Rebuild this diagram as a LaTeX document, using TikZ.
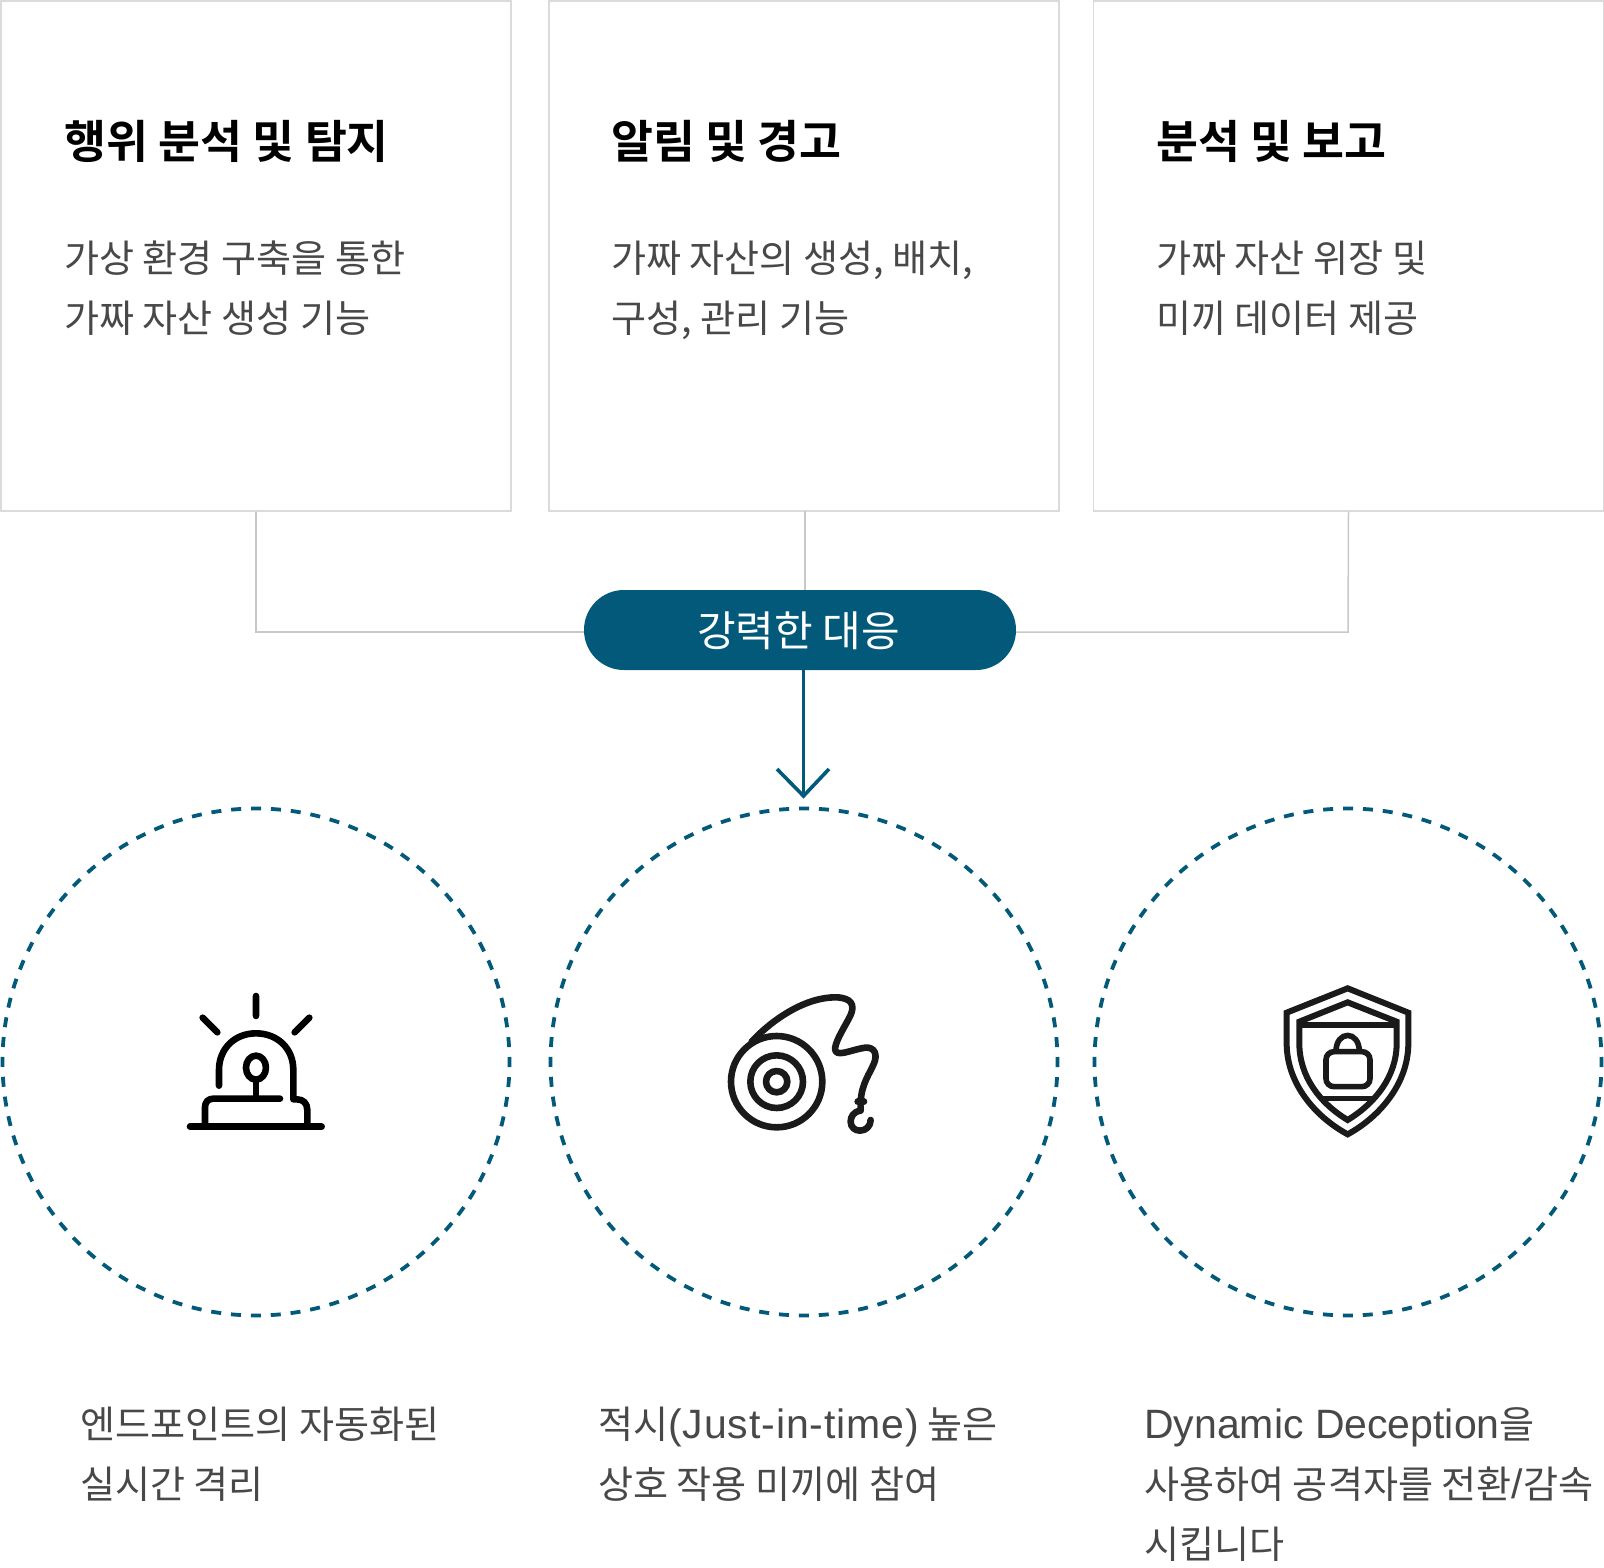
\documentclass[tikz,border=0pt]{standalone}
\usepackage{fontspec}
\setmainfont{Noto Sans CJK KR}
\newfontfamily\latf{Liberation Sans}
\newfontfamily\latg[LetterSpace=2.2]{Liberation Sans}
\newfontfamily\krb{Noto Sans CJK KR Bold}
\definecolor{teal1}{HTML}{02597A}
\definecolor{graybox}{HTML}{DDDADA}
\definecolor{grayline}{HTML}{C8C8C8}
\definecolor{bodytxt}{HTML}{484848}
\definecolor{ink}{HTML}{1A1A1A}
\newcommand{\lat}[1]{{\latf\fontsize{41}{41}\selectfont #1}}
\newcommand{\latw}[1]{{\latg\fontsize{41}{41}\selectfont #1}}
\tikzset{
 card/.style={draw=graybox,line width=1.5pt,minimum width=510pt,minimum height=510pt,inner sep=0pt,fill=white},
 link/.style={draw=grayline,line width=1.5pt},
 pill/.style={fill=teal1,rounded corners=39.9pt,minimum width=432pt,minimum height=80pt,inner sep=0pt},
 pilltext/.style={anchor=base,inner sep=0pt,text=white,font=\fontsize{42}{42}\selectfont},
 ring/.style={circle,draw=teal1,line width=3.8pt,dash pattern=on 10pt off 9.91pt,dash phase=5pt,minimum size=507pt,inner sep=0pt},
 title/.style={anchor=base west,inner sep=0pt,font=\krb\fontsize{45.6}{45.6}\selectfont,text=black},
 body/.style={anchor=base west,inner sep=0pt,font=\fontsize{38.1}{38.1}\selectfont,text=bodytxt},
}
\begin{document}
\begin{tikzpicture}[x=1pt,y=-1pt]
\useasboundingbox (0,0) rectangle (1604,1568);
\coordinate (jl) at (256,632);
\coordinate (jr) at (1348,632);
\node[card] (c1) at (256,256) {};
\node[card] (c2) at (804,256) {};
\node[card] (c3) at (1348.5,256) {};
\node[pill] (p) at (800,630) {};
\node[pilltext] (pt) at (798.5,646) {강력한 대응};
\draw[link] (c1.south) -- (jl) -- (p.west |- jl);
\draw[link] (jr -| p.east) -- (jr) -- (c3.south);
\draw[link] (805,511) -- (805,590);
\node[ring] (r1) at (256,1062) {};
\node[ring] (r2) at (804,1062) {};
\node[ring] (r3) at (1348,1062) {};
\coordinate (tip) at (803.5,796);
\draw[teal1,line width=3.6pt] (803.5,670) -- (tip);
\draw[teal1,line width=3.6pt] (777,769) -- (tip) -- (829,769);
% titles
\node[title] (t1) at (64,159) {행위 분석 및 탐지};
\node[title] (t2) at (611,159) {알림 및 경고};
\node[title] (t3) at (1156,159) {분석 및 보고};
\node[body] (b1a) at (64,272) {가상 환경 구축을 통한};
\node[body] (b1b) at (64,332) {가짜 자산 생성 기능};
\node[body] (b2a) at (611,272) {가짜 자산의 생성, 배치,};
\node[body] (b2b) at (611,332) {구성, 관리 기능};
\node[body] (b3a) at (1156,272) {가짜 자산 위장 및};
\node[body] (b3b) at (1156,332) {미끼 데이터 제공};
\node[body] (d1a) at (80,1438) {엔드포인트의 자동화된};
\node[body] (d1b) at (80,1498) {실시간 격리};
\node[body] (d2a) at (598,1438) {적시\latw{(Just-in-time)} 높은};
\node[body] (d2b) at (598,1498) {상호 작용 미끼에 참여};
\node[body] (d3a) at (1144,1438) {\lat{Dynamic Deception}을};
\node[body] (d3b) at (1144,1498) {사용하여 공격자를 전환\lat{/}감속};
\node[body] (d3c) at (1144,1558) {시킵니다};
% siren
\begin{scope}[shift={(170,970)},x=0.3333pt,y=-0.3333pt]
\tikzset{icon/.style={draw=black,line width=6.6pt,line cap=round,line join=round}}
\draw[icon] (258,78)--(258,138) (98,143)--(142,187) (418,143)--(374,187);
\draw[icon] (147,347)--(147,300) .. controls (147,235) and (195,190) .. (258,190) .. controls (322,190) and (370,235) .. (370,300) -- (370,388) -- (380,388) .. controls (400,388) and (412,400) .. (412,420) -- (412,470);
\draw[icon] (330,386)--(130,386) .. controls (115,386) and (105,396) .. (105,412) -- (105,470);
\draw[icon] (60,470)--(455,470);
\draw[icon] (258,293) ellipse [x radius=30,y radius=36];
\draw[icon] (258,330)--(258,386);
\end{scope}
% whip
\begin{scope}[shift={(710,980)},x=0.3333pt,y=-0.3333pt]
\tikzset{icon/.style={draw=ink,line width=6.6pt,line cap=round,line join=round}}
\draw[icon] (200,305) circle [radius=137];
\draw[icon] (200,305) circle [radius=79];
\draw[icon] (200,305) circle [radius=32];
\draw[icon] (125,185) .. controls (190,115) and (290,50) .. (380,52) .. controls (425,54) and (435,75) .. (422,105) .. controls (405,140) and (380,175) .. (375,205) .. controls (375,235) and (420,210) .. (465,203) .. controls (495,200) and (503,225) .. (492,250) .. controls (480,280) and (455,310) .. (452,365);
\draw[icon] (443,365)--(462,365);
\draw[icon] (452,378)--(452,392) .. controls (430,395) and (422,410) .. (422,425) .. controls (422,442) and (435,452) .. (450,452) .. controls (468,452) and (482,438) .. (482,420);
\end{scope}
% shield
\begin{scope}[shift={(1260,970)},x=0.3333pt,y=-0.3333pt]
\tikzset{icon/.style={draw=ink,line width=6pt,line join=miter}}
\draw[icon] (263,55) -- (445,128) -- (445,220) .. controls (445,340) and (360,440) .. (263,493) .. controls (165,440) and (80,340) .. (80,220) -- (80,128) -- cycle;
\draw[icon] (263,97) -- (410,155) -- (410,220) .. controls (410,320) and (345,400) .. (263,450) .. controls (180,400) and (118,320) .. (118,220) -- (118,155) -- cycle;
\draw[icon] (122,165)--(405,165);
\draw[icon,line width=4.8pt] (190,385)--(340,385);
\draw[icon,line width=5.6pt,rounded corners=8pt] (198,245) rectangle (330,350);
\draw[icon,line width=5.6pt] (228,245) .. controls (228,180) and (298,180) .. (298,245);
\end{scope}
\end{tikzpicture}
\end{document}
